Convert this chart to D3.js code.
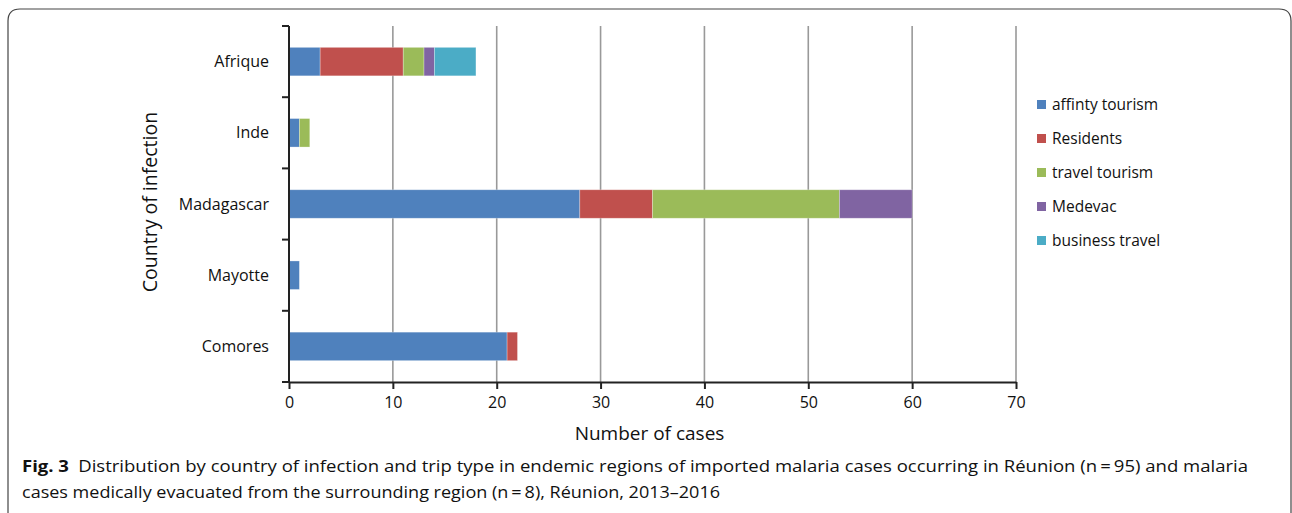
<!DOCTYPE html>
<html>
<head>
<meta charset="utf-8">
<script src="https://cdn.jsdelivr.net/npm/d3@7"></script>
<style>
  body { margin: 0; background: #fff; }
  text { font-family: "Open Sans", "Noto Sans", sans-serif; fill: #111; }
</style>
</head>
<body>
<div id="chart"></div>
<script>
// data
const countries = ["Afrique", "Inde", "Madagascar", "Mayotte", "Comores"];
const seriesNames = ["affinty tourism", "Residents", "travel tourism", "Medevac", "business travel"];
const affinityTourism = [3, 1, 28, 1, 21];
const residents = [8, 0, 7, 0, 1];
const travelTourism = [2, 1, 18, 0, 0];
const medevac = [1, 0, 7, 0, 0];
const businessTravel = [4, 0, 0, 0, 0];
const xTicks = [0, 10, 20, 30, 40, 50, 60, 70];
const colors = ["#4F81BD", "#C0504D", "#9BBB59", "#8064A2", "#4BACC6"];

const W = 1292, H = 513;
const svg = d3.select("#chart").append("svg")
  .attr("width", W).attr("height", H);

// frame around the figure
svg.append("path")
  .attr("d", "M8,530 L8,21 Q8,9 20,9 L1279,9 Q1291,9 1291,21 L1291,530")
  .attr("fill", "none").attr("stroke", "#444").attr("stroke-width", 1.2);

const rows = countries.map((c, i) => ({
  country: c,
  "affinty tourism": affinityTourism[i],
  "Residents": residents[i],
  "travel tourism": travelTourism[i],
  "Medevac": medevac[i],
  "business travel": businessTravel[i]
}));
const stacked = d3.stack().keys(seriesNames)(rows);

const plotL = 289, plotR = 1016, plotT = 26, plotB = 382;
const x = d3.scaleLinear().domain([0, 70]).range([plotL, plotR]);
const y = d3.scaleBand().domain(countries).range([plotT, plotB]).paddingInner(0.6).paddingOuter(0.3);

// grid
svg.append("g").selectAll("line")
  .data(xTicks.slice(1))
  .join("line")
  .attr("x1", d => x(d)).attr("x2", d => x(d))
  .attr("y1", plotT).attr("y2", plotB)
  .attr("stroke", "#999").attr("stroke-width", 1.6);

// bars
svg.append("g").selectAll("g")
  .data(stacked)
  .join("g")
  .attr("fill", (d, i) => colors[i])
  .selectAll("rect")
  .data(d => d.filter(s => s[1] > s[0]))
  .join("rect")
  .attr("x", d => x(d[0]))
  .attr("y", d => y(d.data.country))
  .attr("width", d => x(d[1]) - x(d[0]))
  .attr("height", y.bandwidth())
  .attr("stroke", "rgba(255,255,255,0.35)").attr("stroke-width", 0.8);

// y axis with ticks between categories
const yTickPos = d3.range(countries.length + 1).map(i => plotT + i * (plotB - plotT) / countries.length);
const yAxis = svg.append("g");
yAxis.append("line")
  .attr("x1", plotL).attr("x2", plotL).attr("y1", plotT).attr("y2", plotB)
  .attr("stroke", "#222").attr("stroke-width", 2);
yAxis.selectAll(".tk").data(yTickPos).join("line")
  .attr("class", "tk")
  .attr("x1", plotL - 7).attr("x2", plotL).attr("y1", d => d).attr("y2", d => d)
  .attr("stroke", "#222").attr("stroke-width", 2);
yAxis.selectAll("text").data(countries).join("text")
  .attr("x", 269).attr("y", d => y(d) + y.bandwidth() / 2)
  .attr("dy", "0.35em").attr("text-anchor", "end")
  .style("font-size", "16px").text(d => d);

// x axis
const xAxis = svg.append("g")
  .attr("transform", `translate(0,${plotB})`)
  .call(d3.axisBottom(x).tickValues(xTicks).tickSize(7).tickSizeOuter(0).tickPadding(8));
xAxis.select(".domain").attr("stroke", "#222").attr("stroke-width", 2);
xAxis.selectAll(".tick line").attr("stroke", "#222").attr("stroke-width", 2);
xAxis.selectAll(".tick text").style("font-size", "16px")
  .style("font-family", "'Open Sans', sans-serif").attr("fill", "#111");

// axis titles
svg.append("text")
  .attr("x", (plotL + plotR) / 2 - 3).attr("y", 440)
  .attr("text-anchor", "middle").style("font-size", "19px")
  .text("Number of cases");
svg.append("text")
  .attr("transform", "translate(157,202) rotate(-90)")
  .attr("text-anchor", "middle").style("font-size", "19.5px")
  .text("Country of infection");

// legend
const legend = svg.append("g").selectAll("g")
  .data(seriesNames)
  .join("g")
  .attr("transform", (d, i) => `translate(1037,${105 + i * 34})`);
legend.append("rect")
  .attr("x", 0).attr("y", -5).attr("width", 9).attr("height", 9)
  .attr("fill", (d, i) => colors[i]);
legend.append("text")
  .attr("x", 15).attr("y", 0).attr("dy", "0.35em")
  .style("font-size", "15.5px").text(d => d);

// caption
const cap1 = svg.append("text").attr("x", 22).attr("y", 472)
  .style("font-size", "16px").attr("textLength", 1226).attr("lengthAdjust", "spacingAndGlyphs");
cap1.append("tspan").style("font-weight", "bold").text("Fig. 3");
cap1.append("tspan").text("\u2002Distribution by country of infection and trip type in endemic regions of imported malaria cases occurring in Réunion (n\u2009=\u200995) and malaria");
svg.append("text").attr("x", 22).attr("y", 498)
  .style("font-size", "16px").attr("textLength", 698).attr("lengthAdjust", "spacingAndGlyphs")
  .text("cases medically evacuated from the surrounding region (n\u2009=\u20098), Réunion, 2013–2016");
</script>
</body>
</html>
